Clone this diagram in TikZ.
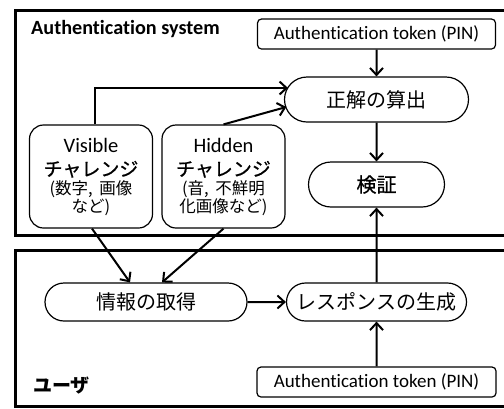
\documentclass[tikz,border=0pt]{standalone}
\usepackage{fontspec}
\setmainfont{Carlito}[Ligatures=NoCommon]
\newfontfamily\jp{Noto Sans CJK JP}
\newfontfamily\jpb[FakeBold=0.8]{Noto Sans CJK JP}
\usetikzlibrary{arrows.meta,shapes.misc}
\begin{document}
\begin{tikzpicture}[x=1bp,y=-1bp,
  frame/.style={line width=3bp},
  box/.style={draw, line width=1.2bp, inner sep=0pt},
  token/.style={box, rounded corners=4bp, minimum width=238bp, minimum height=30bp,
    font=\fontsize{19bp}{21bp}\selectfont},
  proc/.style={box, rounded rectangle, minimum height=45bp,
    font=\jp\fontsize{20bp}{22bp}\selectfont},
  chal/.style={box, rounded corners=14bp, minimum width=123bp, minimum height=103bp,
    align=center, font=\fontsize{20.5bp}{22bp}\selectfont},
  arr/.style={line width=2bp, -{Straight Barb[length=7bp,width=13bp]}},
  lbl/.style={anchor=west, inner sep=0pt}]
\useasboundingbox (0,0) rectangle (504,408);
% frames
\draw[frame] (520,10) -| (15,235) -- (520,235);
\draw[frame] (520,250) -| (15,406) -- (520,406);
% labels
\node[lbl, font=\bfseries\fontsize{20.2bp}{22bp}\selectfont] (sys) at (31,29) {Authentication system};
\node[lbl, font=\jp\bfseries\fontsize{19bp}{21bp}\selectfont] (usr) at (33,386) {ユーザ};
% nodes
\node[token] (tokT) at (376.5,34) {Authentication token (PIN)};
\node[proc, minimum width=184bp] (calc) at (376.5,99.5) {正解の算出};
\node[proc, minimum width=136bp, font=\jpb\fontsize{20bp}{22bp}\selectfont] (verify) at (376.5,184.5) {検証};
\node[chal] (vis) at (91,176.5) {\rule{0pt}{12bp}Visible\\[2bp]{\jpb\fontsize{19bp}{20bp}\selectfont チャレンジ}\\[-4bp]{\jp\fontsize{16.5bp}{18bp}\selectfont (数字,\hspace{3bp} 画像}\\[-4bp]{\jp\fontsize{16.5bp}{18bp}\selectfont など)}};
\node[chal] (hid) at (223.5,176.5) {\rule{0pt}{12bp}Hidden\\[2bp]{\jpb\fontsize{19bp}{20bp}\selectfont チャレンジ}\\[-4bp]{\jp\fontsize{16.5bp}{18bp}\selectfont (音,\hspace{3bp} 不鮮明}\\[-4bp]{\jp\fontsize{16.5bp}{18bp}\selectfont 化画像など)}};
\node[proc, minimum height=38bp, minimum width=202bp] (info) at (146,302) {情報の取得};
\node[proc, minimum height=38bp, minimum width=180bp] (resp) at (376.5,302) {レスポンスの生成};
\node[token, minimum width=239bp] (tokB) at (376.5,382) {Authentication token (PIN)};
% connector ends on the rounded side of calc
\coordinate (c1) at (288,88);
\coordinate (c2) at (286.3,107);
% arrows
\draw[arr] (tokT) -- (calc);
\draw[arr] ([xshift=4bp]vis.north) |- (c1);
\draw[arr] (hid.north) -- (c2);
\draw[arr] (calc) -- (verify);
\draw[arr] (resp) -- (verify);
\draw[arr] (tokB) -- (resp);
\draw[arr] (info) -- (resp);
\draw[arr] ([xshift=1bp]vis.south) -- ([xshift=-16bp]info.north);
\draw[arr] (hid.south) -- ([xshift=16bp]info.north);
\end{tikzpicture}
\end{document}
